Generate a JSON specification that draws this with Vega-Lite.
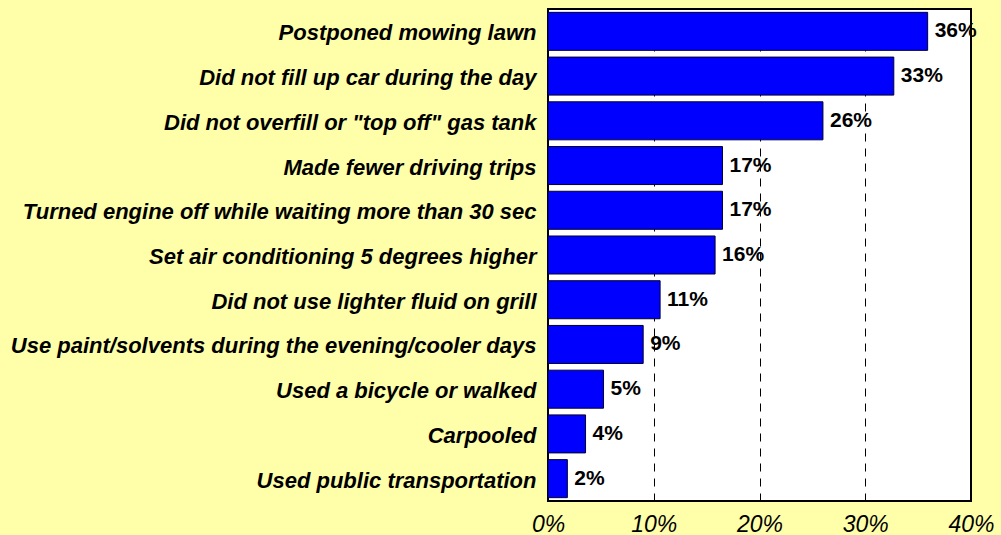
{
  "$schema": "https://vega.github.io/schema/vega-lite/v6.json",
  "width": 423,
  "height": 492,
  "autosize": "none",
  "padding": {"left": 548, "top": 9, "right": 30, "bottom": 34},
  "background": "#FFFFAA",
  "config": {
    "font": "Liberation Sans",
    "view": {"fill": "white", "stroke": "black", "strokeWidth": 2}
  },
  "data": {
    "values": [
      {"action": "Postponed mowing lawn", "pct": 0.359},
      {"action": "Did not fill up car during the day", "pct": 0.327},
      {"action": "Did not overfill or \"top off\" gas tank", "pct": 0.26},
      {"action": "Made fewer driving trips", "pct": 0.165},
      {"action": "Turned engine off while waiting more than 30 sec", "pct": 0.165},
      {"action": "Set air conditioning 5 degrees higher", "pct": 0.158},
      {"action": "Did not use lighter fluid on grill", "pct": 0.106},
      {"action": "Use paint/solvents during the evening/cooler days", "pct": 0.09},
      {"action": "Used a bicycle or walked", "pct": 0.0525},
      {"action": "Carpooled", "pct": 0.0355},
      {"action": "Used public transportation", "pct": 0.0183}
    ]
  },
  "encoding": {
    "y": {
      "field": "action",
      "type": "nominal",
      "sort": null,
      "title": null,
      "scale": {"paddingInner": 0.15, "paddingOuter": 0.075},
      "axis": {
        "domain": false,
        "ticks": false,
        "labelFont": "Liberation Sans",
        "labelFontSize": 22,
        "labelFontWeight": "bold",
        "labelFontStyle": "italic",
        "labelColor": "black",
        "labelPadding": 12,
        "labelOffset": 2,
        "labelLimit": 700
      }
    },
    "x": {
      "field": "pct",
      "type": "quantitative",
      "title": null,
      "scale": {"domain": [0, 0.4], "nice": false},
      "axis": {
        "values": [0, 0.1, 0.2, 0.3, 0.4],
        "format": ".0%",
        "domain": false,
        "ticks": false,
        "grid": true,
        "gridColor": "black",
        "gridDash": [8, 7],
        "gridWidth": 1,
        "gridOpacity": 1,
        "labelFont": "Liberation Sans",
        "labelFontSize": 23,
        "labelFontStyle": "italic",
        "labelColor": "black",
        "labelFlush": false,
        "labelPadding": 12
      }
    }
  },
  "layer": [
    {
      "mark": {"type": "bar", "fill": "#0000FF", "stroke": "#000033", "strokeWidth": 1}
    },
    {
      "mark": {"type": "text", "align": "left", "baseline": "middle", "dx": 7, "fontSize": 21, "fontWeight": "bold", "color": "black"},
      "encoding": {
        "text": {"field": "pct", "type": "quantitative", "format": ".0%"}
      }
    }
  ]
}
